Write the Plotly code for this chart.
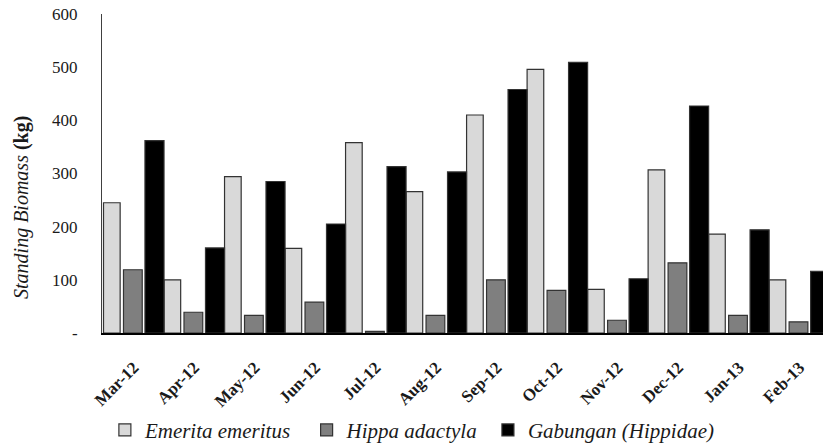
import plotly.graph_objects as go

months = ["Mar-12", "Apr-12", "May-12", "Jun-12", "Jul-12", "Aug-12",
          "Sep-12", "Oct-12", "Nov-12", "Dec-12", "Jan-13", "Feb-13"]
emerita = [245, 100, 294, 159, 358, 266, 410, 496, 82, 307, 186, 100]
hippa = [119, 39, 33, 58, 3, 33, 100, 80, 24, 132, 33, 21]
gabungan = [362, 160, 285, 205, 313, 303, 458, 509, 102, 427, 194, 116]

y_ticks = [0, 100, 200, 300, 400, 500, 600]
y_ticktext = ["-", "100", "200", "300", "400", "500", "600"]

SERIF = "Liberation Serif, Times New Roman, DejaVu Serif, serif"

series = [
    ("<i>Emerita emeritus</i>&nbsp;&nbsp;", emerita, "#d9d9d9", -0.5, 0.275),
    ("<i>Hippa adactyla</i>&nbsp;", hippa, "#7f7f7f", -0.17, 0.31),
    ("<i>Gabungan (Hippidae)</i>", gabungan, "#000000", 0.185, 0.315),
]

fig = go.Figure()
for name, vals, color, off, w in series:
    fig.add_trace(go.Bar(
        x=months, y=vals, name=name,
        offset=off, width=w,
        marker=dict(color=color, line=dict(color="#333333", width=1.2)),
    ))

fig.update_layout(
    width=823, height=443,
    margin=dict(l=102, r=0, t=13.5, b=109.5, autoexpand=False),
    paper_bgcolor="white", plot_bgcolor="white",
    barmode="overlay",
    showlegend=True,
    legend=dict(orientation="h", x=0.004, xanchor="left", y=-0.305, yanchor="middle",
                bgcolor="rgba(0,0,0,0)",
                font=dict(family=SERIF, size=21, color="#1a1a1a"),
                traceorder="normal", itemclick=False),
    font=dict(family=SERIF, color="#1a1a1a"),
)
fig.update_xaxes(
    range=[-0.525, 11.39], showline=True, linecolor="#000000", linewidth=1.5,
    ticks="", tickangle=-45, showgrid=False, zeroline=False, automargin=False,
    ticklabelstandoff=16,
    tickfont=dict(family=SERIF, size=17, color="#1a1a1a", weight="bold"),
)
fig.update_yaxes(
    range=[0, 600], tickvals=y_ticks, ticktext=y_ticktext,
    showline=True, linecolor="#404040", linewidth=1, ticks="", showgrid=False,
    zeroline=False, ticklabelstandoff=20, automargin=False,
    tickfont=dict(family=SERIF, size=17, color="#1a1a1a"),
)
fig.add_annotation(
    text="<i>Standing Biomass</i> <b>(kg)</b>", textangle=-90,
    xref="paper", yref="paper", x=-0.111, y=0.395,
    xanchor="center", yanchor="middle", showarrow=False,
    font=dict(family=SERIF, size=20, color="#1a1a1a"),
)

fig.write_html("out.html", config={"displayModeBar": False},
               post_script="document.body.style.margin='0';document.body.style.overflow='hidden';")
